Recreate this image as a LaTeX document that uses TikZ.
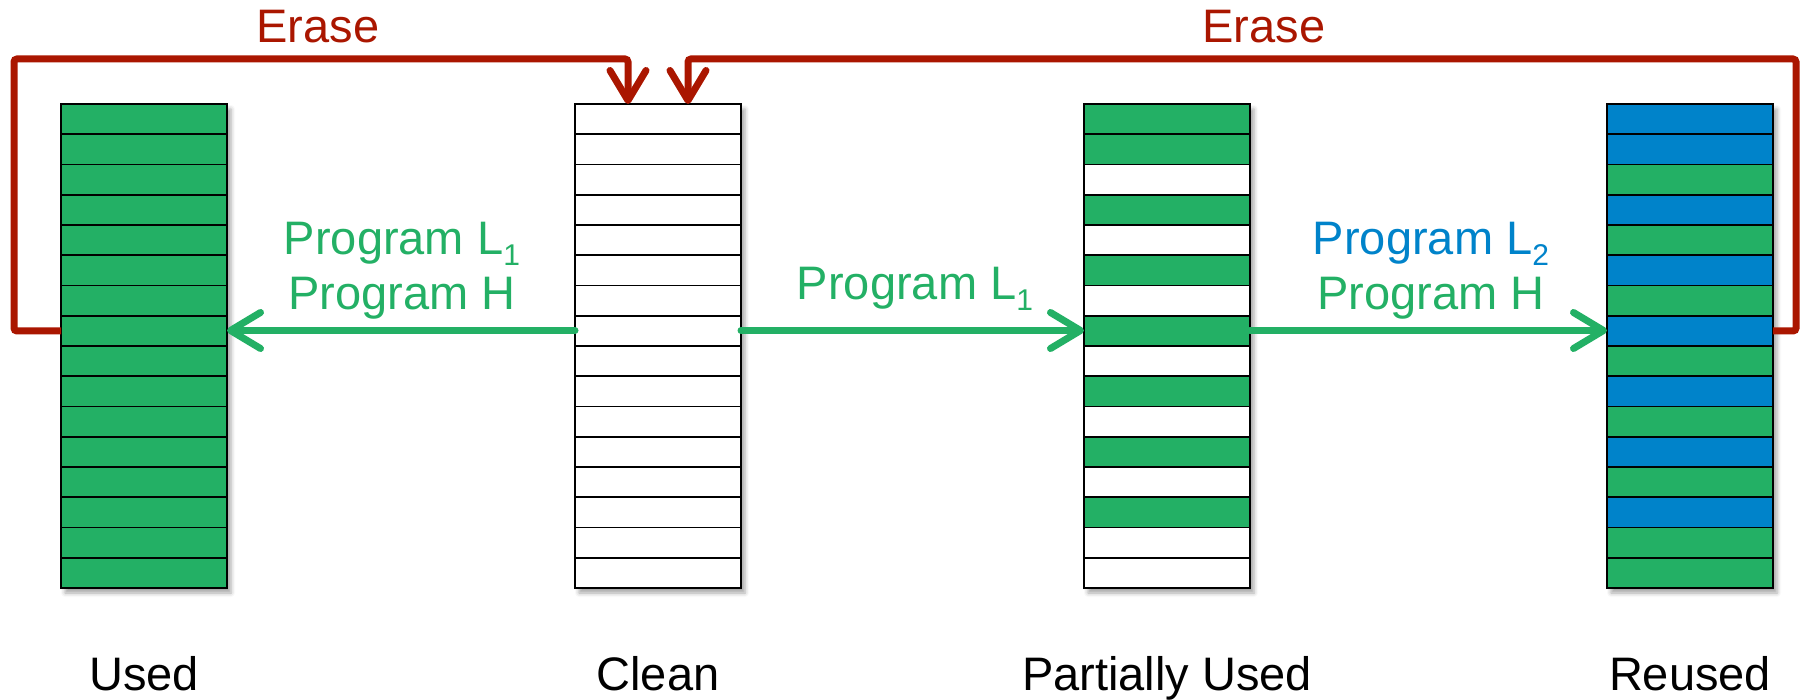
\documentclass[tikz,border=0pt]{standalone}
\usepackage{fontspec}
\setmainfont{Liberation Sans}
\usetikzlibrary{arrows.meta,shadows.blur}
\definecolor{pgreen}{RGB}{35,176,101}
\definecolor{pblue}{RGB}{0,131,202}
\definecolor{ered}{RGB}{170,22,0}
\newcommand\lowsub[1]{\raisebox{-11pt}{\fontsize{30}{30}\selectfont #1}}
\tikzset{
  blockframe/.style={draw=black, line width=1.8pt, minimum width=166pt,
    minimum height=484pt, inner sep=0pt, outer sep=0pt},
  blockshadow/.style={fill=white, blur shadow={shadow xshift=4pt,
    shadow yshift=-5pt, shadow blur radius=4pt, shadow opacity=35}},
  cell/.style={draw=black, line width=1.6pt},
  progarrow/.style={draw=pgreen, line width=7pt, line cap=round,
    -{Straight Barb[length=30pt,width=36pt,line cap=round,round]}},
  erasearrow/.style={draw=ered, line width=7pt, rounded corners=3pt,
    -{Straight Barb[length=30pt,width=36pt,line cap=round,round]}},
  lbl/.style={font=\fontsize{47}{56}\selectfont, anchor=base, inner sep=0pt},
}
\begin{document}
\begin{tikzpicture}[x=1pt,y=-1pt]
\useasboundingbox (0,0) rectangle (1804,700);

% the four blocks, each made of 16 pages
\node[blockframe,blockshadow] (used)    at (144,346)  {};
\node[blockframe,blockshadow] (clean)   at (658,346)  {};
\node[blockframe,blockshadow] (partial) at (1167,346) {};
\node[blockframe,blockshadow] (reused)  at (1690,346) {};

\foreach \c [count=\i from 0] in {pgreen,pgreen,pgreen,pgreen,pgreen,pgreen,pgreen,pgreen,
                                  pgreen,pgreen,pgreen,pgreen,pgreen,pgreen,pgreen,pgreen}
  \draw[cell,fill=\c] (61,104+30.25*\i) rectangle (227,104+30.25*\i+30.25);
\foreach \i in {0,...,15}
  \draw[cell,fill=white] (575,104+30.25*\i) rectangle (741,104+30.25*\i+30.25);
\foreach \c [count=\i from 0] in {pgreen,pgreen,white,pgreen,white,pgreen,white,pgreen,
                                  white,pgreen,white,pgreen,white,pgreen,white,white}
  \draw[cell,fill=\c] (1084,104+30.25*\i) rectangle (1250,104+30.25*\i+30.25);
\foreach \c [count=\i from 0] in {pblue,pblue,pgreen,pblue,pgreen,pblue,pgreen,pblue,
                                  pgreen,pblue,pgreen,pblue,pgreen,pblue,pgreen,pgreen}
  \draw[cell,fill=\c] (1607,104+30.25*\i) rectangle (1773,104+30.25*\i+30.25);

\node[blockframe] at (used)    {};
\node[blockframe] at (clean)   {};
\node[blockframe] at (partial) {};
\node[blockframe] at (reused)  {};

% program arrows
\draw[progarrow] ([yshift=15.5pt]clean.west)   -- ([yshift=15.5pt]used.east);
\draw[progarrow] ([yshift=15.5pt]clean.east)   -- ([yshift=15.5pt]partial.west);
\draw[progarrow] ([yshift=15.5pt]partial.east) -- ([yshift=15.5pt]reused.west);

% erase loops back to the clean block
\coordinate (lcorner) at (14,59);
\coordinate (rcorner) at (1796,59);
\draw[erasearrow] ([yshift=15pt]used.west) -| (lcorner) -| ([xshift=-30pt]clean.north);
\draw[erasearrow] ([yshift=15pt]reused.east) -| (rcorner) -| ([xshift=30pt]clean.north);

% labels
\node[lbl,text=ered] (erase1) at (318,43)  {Erase};
\node[lbl,text=ered] (erase2) at (1264,43) {Erase};

\node[lbl,text=pgreen] (p1a) at (402,255) {Program L\lowsub{1}};
\node[lbl,text=pgreen] (p1b) at (402,310) {Program H};
\node[lbl,text=pgreen] (p2)  at (915,300) {Program L\lowsub{1}};
\node[lbl,text=pblue]  (p3a) at (1431,255) {Program L\lowsub{2}};
\node[lbl,text=pgreen] (p3b) at (1431,310) {Program H};

\node[lbl] (tused)    at (144,690)  {Used};
\node[lbl] (tclean)   at (658,690)  {Clean};
\node[lbl] (tpartial) at (1167,690) {Partially Used};
\node[lbl] (treused)  at (1690,690) {Reused};
\end{tikzpicture}
\end{document}
